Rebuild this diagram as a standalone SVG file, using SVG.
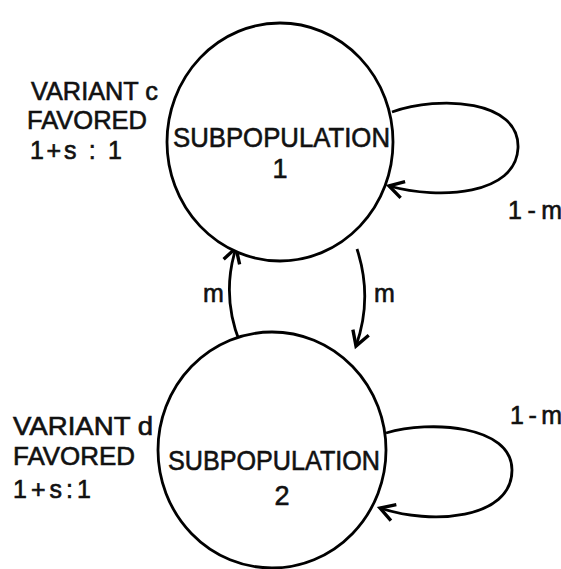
<svg xmlns="http://www.w3.org/2000/svg" width="561" height="569" viewBox="0 0 561 569">
<style>
.node{fill:#fff;stroke:#000;stroke-width:2.8}
.t{font-family:"Liberation Sans","DejaVu Sans",sans-serif;fill:#111;stroke:#111;stroke-width:0.6}
.big{font-size:27px}
.lab{font-size:25px}
.edge{fill:none;stroke:#000;stroke-width:2.8}
</style>
<defs>
<marker id="ah" markerUnits="userSpaceOnUse" markerWidth="24" markerHeight="24" viewBox="-14 -10 16 20" refX="0" refY="0" orient="auto">
<path d="M -12 -7 L 0 0 L -12 7" fill="none" stroke="#000" stroke-width="2.8"/>
</marker>
</defs>
<rect width="561" height="569" fill="#fff"/>
<g id="connectors">
<path class="edge" d="M 392 112 C 440 95, 520 100, 518 148 C 516 195, 440 200, 389 186" marker-end="url(#ah)"/>
<path class="edge" d="M 240 343 Q 221 295 236 248" marker-end="url(#ah)"/>
<path class="edge" d="M 357 249 Q 373 298 356 346" marker-end="url(#ah)"/>
<path class="edge" d="M 386 433 C 430 420, 512 425, 512 470 C 512 520, 430 525, 380 508" marker-end="url(#ah)"/>
<text class="t lab" x="508" y="219" textLength="54" lengthAdjust="spacing">1-m</text>
<text class="t lab" x="203" y="302">m</text>
<text class="t lab" x="374" y="302">m</text>
<text class="t lab" x="510" y="424" textLength="52" lengthAdjust="spacing">1-m</text>
</g>
<g id="node1">
<ellipse class="node" cx="280" cy="142" rx="113" ry="119"/>
<text class="t big" x="173" y="147" textLength="217" lengthAdjust="spacingAndGlyphs">SUBPOPULATION</text>
<text class="t big" x="280" y="178" text-anchor="middle">1</text>
</g>
<g id="label1">
<text class="t lab" x="31" y="100" textLength="127" lengthAdjust="spacingAndGlyphs">VARIANT c</text>
<text class="t lab" x="27" y="129" textLength="120" lengthAdjust="spacingAndGlyphs">FAVORED</text>
<text class="t lab" x="30" y="159" textLength="92" lengthAdjust="spacing">1+s : 1</text>
</g>
<g id="node2">
<ellipse class="node" cx="272" cy="450" rx="114" ry="118"/>
<text class="t big" x="168" y="470" textLength="212" lengthAdjust="spacingAndGlyphs">SUBPOPULATION</text>
<text class="t big" x="282" y="505" text-anchor="middle">2</text>
</g>
<g id="label2">
<text class="t lab" x="13" y="435" textLength="140" lengthAdjust="spacingAndGlyphs">VARIANT d</text>
<text class="t lab" x="13" y="465" textLength="122" lengthAdjust="spacingAndGlyphs">FAVORED</text>
<text class="t lab" x="13" y="498" textLength="78" lengthAdjust="spacing">1+s:1</text>
</g>
</svg>
